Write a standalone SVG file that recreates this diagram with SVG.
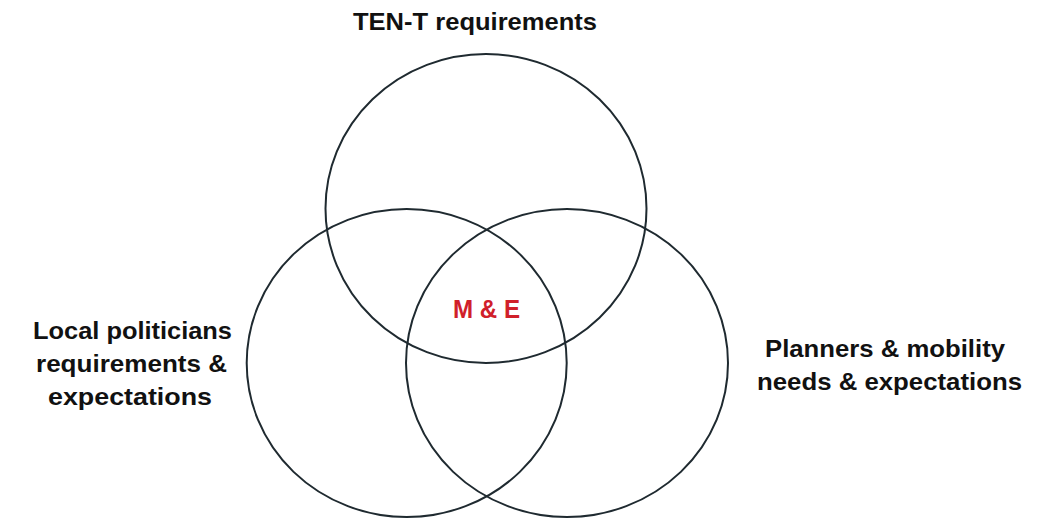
<svg xmlns="http://www.w3.org/2000/svg" width="1043" height="518" viewBox="0 0 1043 518">
<style>
.c{fill:none;stroke:#1f2a30;stroke-width:2}
.t{font-family:"Liberation Sans",Arial,sans-serif;font-weight:bold;font-size:24px;fill:#111;text-anchor:middle}
.m{font-family:"Liberation Sans",Arial,sans-serif;font-weight:bold;font-size:25px;fill:#d0202a;text-anchor:middle}
</style>
<rect width="1043" height="518" fill="#fff"/>
<g id="top">
<ellipse class="c" cx="486" cy="208.5" rx="160.5" ry="154.5"/>
<text class="t" x="475" y="30" textLength="244" lengthAdjust="spacingAndGlyphs">TEN-T requirements</text>
</g>
<g id="left">
<ellipse class="c" cx="406.7" cy="363" rx="160" ry="154"/>
<text class="t" x="132.5" y="339" textLength="199" lengthAdjust="spacingAndGlyphs">Local politicians</text>
<text class="t" x="131.5" y="372" textLength="191" lengthAdjust="spacingAndGlyphs">requirements &amp;</text>
<text class="t" x="130" y="405" textLength="164" lengthAdjust="spacingAndGlyphs">expectations</text>
</g>
<g id="right">
<ellipse class="c" cx="567" cy="363" rx="161" ry="154"/>
<text class="t" x="885" y="357" textLength="240" lengthAdjust="spacingAndGlyphs">Planners &amp; mobility</text>
<text class="t" x="889.5" y="390" textLength="265" lengthAdjust="spacingAndGlyphs">needs &amp; expectations</text>
</g>
<g id="center">
<text class="m" x="486.5" y="318" textLength="67" lengthAdjust="spacingAndGlyphs">M &amp; E</text>
</g>
<g id="connectors"/>
</svg>
